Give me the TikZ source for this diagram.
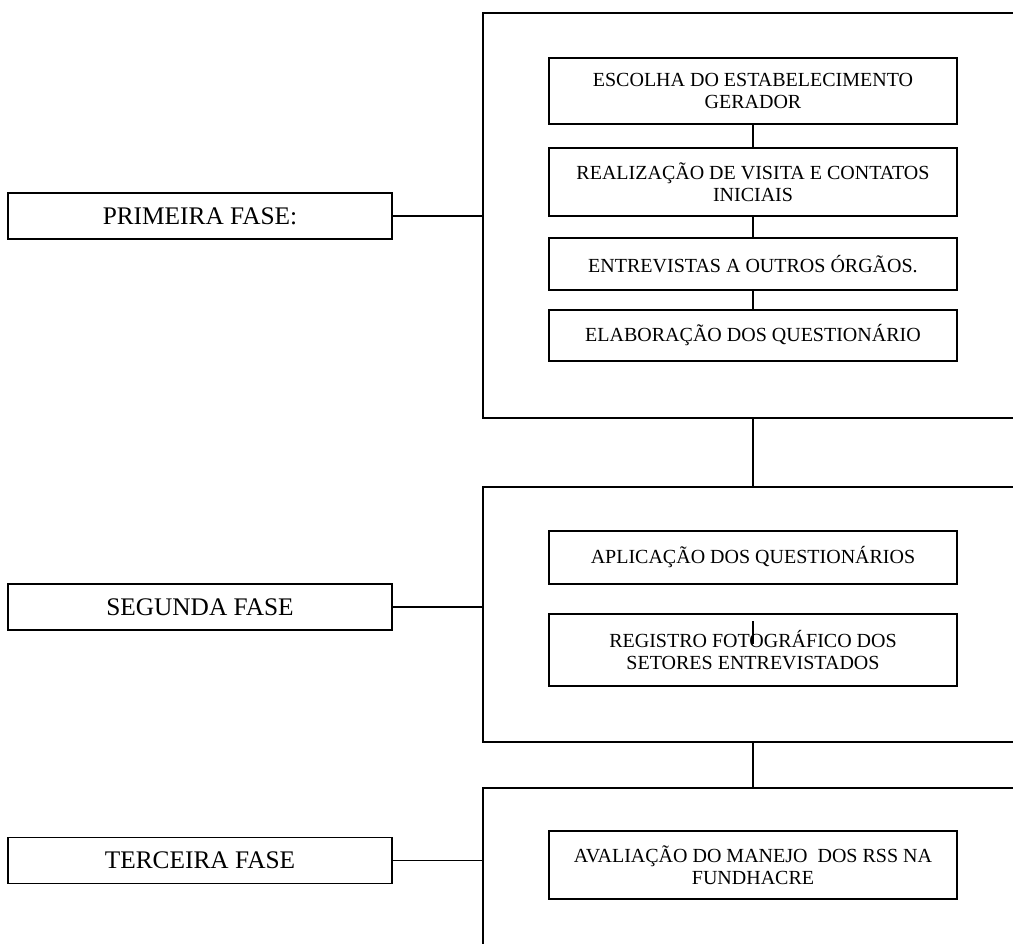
\documentclass[tikz,border=0pt]{standalone}
\usepackage{fontspec}
\setmainfont{Liberation Serif}
\begin{document}
\begin{tikzpicture}[x=0.75pt,y=-0.75pt,
  line width=1pt,
  stepbox/.style={draw,line width=1pt,inner sep=0pt,align=center,
    minimum width=306pt,font=\fontsize{15}{16.5}\selectfont},
  phase/.style={draw,line width=1pt,inner sep=0pt,align=center,
    minimum width=288pt,minimum height=34.5pt,font=\fontsize{19}{21}\selectfont},
  frame/.style={draw,line width=1pt,inner sep=0pt}]
\useasboundingbox (0,0) rectangle (1013,943);
\clip (0,0) rectangle (1013,943);
% frames
\node[frame,minimum width=417.75pt,minimum height=303.75pt] (f1) at (761.5,215.5) {};
\node[frame,minimum width=417.75pt,minimum height=191.25pt] (f2) at (761.5,614.5) {};
\node[frame,minimum width=417.75pt,minimum height=129pt] (f3) at (761.5,874) {};
% phase boxes
\node[phase] (p1) at (200,216) {PRIMEIRA FASE:};
\node[phase] (p2) at (200,607) {SEGUNDA FASE};
\node[phase] (p3) at (200,860.5) {TERCEIRA FASE};
% inner boxes
\node[stepbox,minimum height=49.5pt] (b1) at (753,91) {ESCOLHA DO ESTABELECIMENTO\\GERADOR};
\node[stepbox,minimum height=51pt] (b2) at (753,182) {REALIZAÇÃO DE VISITA E CONTATOS\\INICIAIS};
\node[stepbox,minimum height=39pt] (b3) at (753,264) {ENTREVISTAS A OUTROS ÓRGÃOS.};
\node[stepbox,minimum height=38.25pt] (b4) at (753,335.5) {ELABORAÇÃO DOS QUESTIONÁRIO};
\node[stepbox,minimum height=39.75pt] (s1) at (753,557.5) {APLICAÇÃO DOS QUESTIONÁRIOS};
\node[stepbox,minimum height=54pt] (s2) at (753,650) {REGISTRO FOTOGRÁFICO DOS\\SETORES ENTREVISTADOS};
\node[stepbox,minimum height=51pt] (t1) at (753,865) {AVALIAÇÃO DO MANEJO\ \ DOS RSS NA\\FUNDHACRE};
% connectors
\draw (b1.south) -- (b2.north);
\draw (b2.south) -- (b3.north);
\draw (b3.south) -- (b4.north);
\draw (b4 |- f1.south) -- (b4 |- f2.north);
\draw (s2 |- f2.south) -- (s2 |- f3.north);
\draw (p1.east) -- (p1.east -| f1.west);
\draw (p2.east) -- (p2.east -| f2.west);
\draw (p3.east) -- (p3.east -| f3.west);
\coordinate (m1) at (753,621);
\coordinate (m2) at (753,644);
\draw (m1) -- (m2);
\end{tikzpicture}
\end{document}
